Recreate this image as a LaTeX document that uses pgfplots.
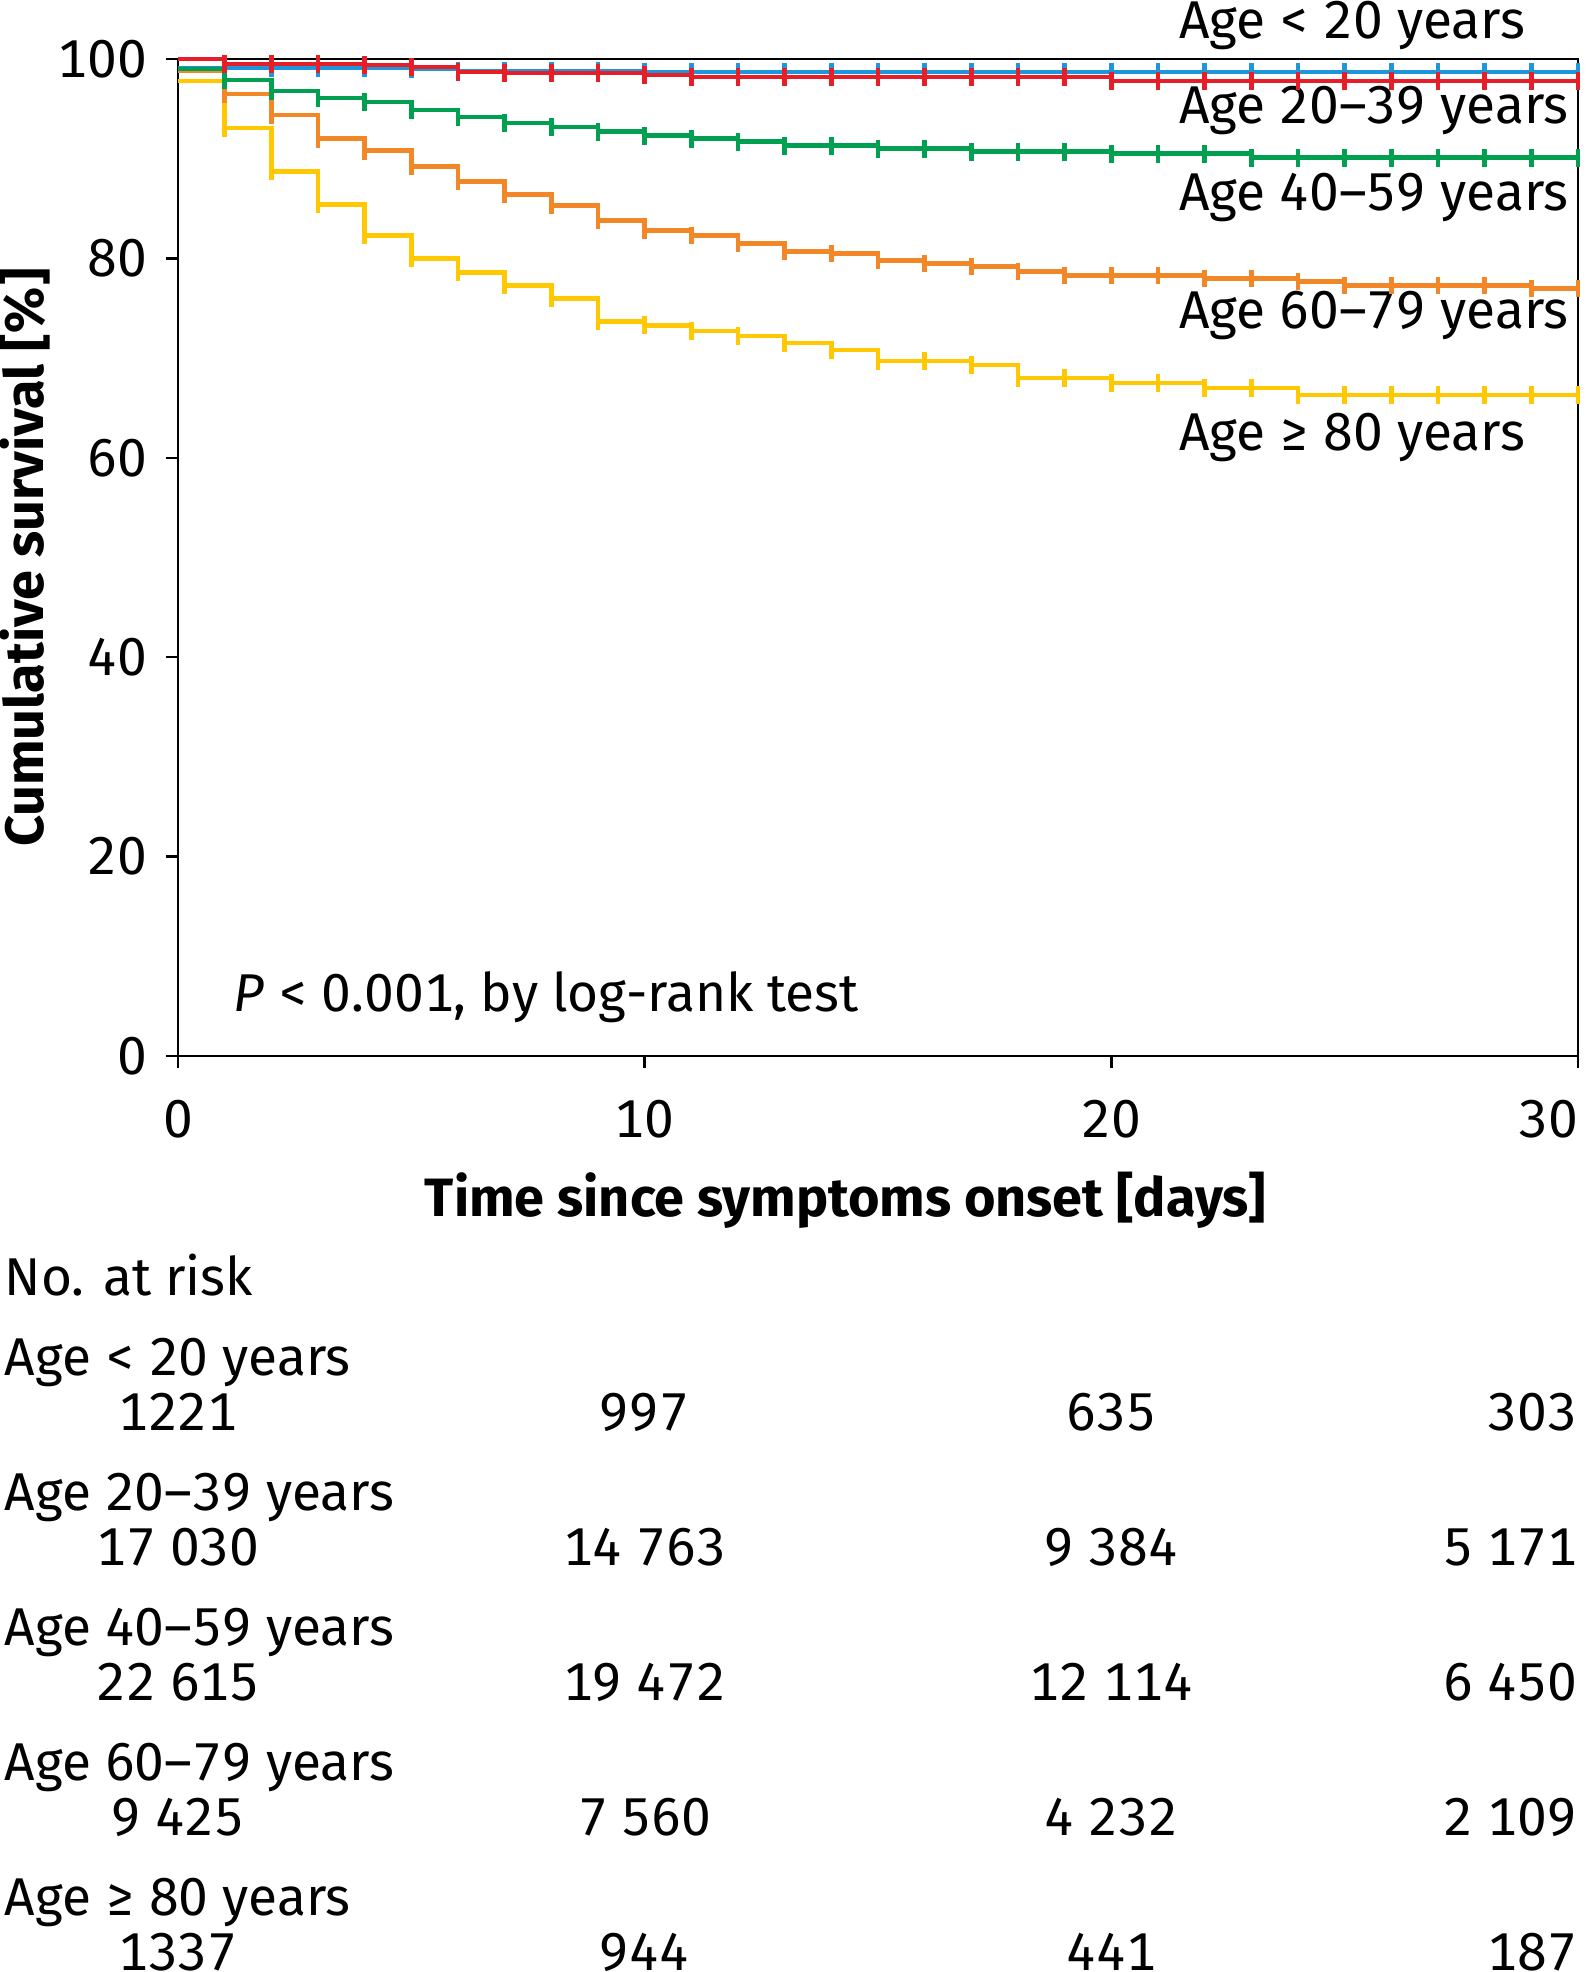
\documentclass[border=0pt]{standalone}
\usepackage{fontspec}
\setmainfont{Fira Sans}[Numbers=Monospaced]
\usepackage{pgfplots}
\pgfplotsset{compat=1.18}

\definecolor{cblue}{RGB}{30,150,220}
\definecolor{cred}{RGB}{230,30,40}
\definecolor{cgreen}{RGB}{0,160,80}
\definecolor{corange}{RGB}{242,135,40}
\definecolor{cyellow}{RGB}{255,200,0}

\newcommand{\fs}{\fontsize{13.3}{16}\selectfont}
\newcommand{\fb}{\fontsize{13.5}{16}\selectfont\bfseries}

% Kaplan-Meier estimates (day, survival %)
\pgfplotstableread{
day  u20   a20   a40   a60   a80
0    99.1  100.0 99.0  98.8  97.8
1    99.1  99.5  97.9  96.5  93.1
2    99.1  99.5  96.8  94.4  88.7
3    99.1  99.5  96.1  92.0  85.4
4    99.1  99.4  95.7  90.8  82.3
5    99.0  99.2  94.9  89.2  80.0
6    98.8  98.7  94.2  87.7  78.6
7    98.8  98.6  93.6  86.4  77.3
8    98.8  98.6  93.2  85.3  76.0
9    98.8  98.6  92.7  83.8  73.7
10   98.7  98.4  92.3  82.8  73.3
11   98.7  98.2  92.0  82.3  72.7
12   98.7  98.2  91.7  81.5  72.2
13   98.7  98.2  91.3  80.7  71.5
14   98.7  98.2  91.3  80.5  70.8
15   98.7  98.2  91.0  79.8  69.7
16   98.7  98.2  91.0  79.5  69.7
17   98.7  98.2  90.7  79.2  69.3
18   98.7  98.2  90.7  78.7  68.0
19   98.7  98.2  90.7  78.3  68.0
20   98.7  97.8  90.5  78.3  67.5
21   98.7  97.8  90.5  78.3  67.5
22   98.7  97.8  90.5  78.0  67.0
23   98.7  97.8  90.1  78.0  67.0
24   98.7  97.8  90.1  77.7  66.3
25   98.7  97.8  90.1  77.3  66.3
26   98.7  97.8  90.1  77.3  66.3
27   98.7  97.8  90.1  77.3  66.3
28   98.7  97.8  90.1  77.3  66.3
29   98.7  97.8  90.1  77.0  66.3
30   98.7  97.8  90.1  77.0  66.3
}\km

\begin{document}
\begin{tikzpicture}[font=\fs, txt/.style={inner sep=0pt}]
\begin{axis}[
name=ax,
scale only axis,
width=350pt, height=249.25pt,
xmin=0, xmax=30, ymin=0, ymax=100,
xtick={0,10,20,30},
xticklabels={0,10,20,\llap{30}},
ytick={0,20,...,100},
tick align=outside,
xtick pos=left, ytick pos=left,
major tick length=3pt,
axis line style={line width=0.6pt},
tick style={line width=0.6pt, black},
ticklabel style={font=\fs},
/pgf/number format/assume math mode=true,
xticklabel style={yshift=-4.5pt},
yticklabel style={xshift=-1.2pt},
clip=false,
every axis plot/.append style={const plot, line width=1.15pt,
  mark=|, mark repeat=1, mark phase=2, mark size=2.2pt,
  mark options={line width=1.1pt}},
]
\addplot[cblue] table[x=day, y=u20] {\km};
\addplot[corange] table[x=day, y=a60] {\km};
\addplot[cyellow] table[x=day, y=a80] {\km};
\addplot[cgreen] table[x=day, y=a40] {\km};
\addplot[cred] table[x=day, y=a20] {\km};

\node[txt, anchor=base west] at (axis cs:21.44,102.08) {Age < 20 years};
\node[txt, anchor=base west] at (axis cs:21.44,93.55) {Age 20–39 years};
\node[txt, anchor=base west] at (axis cs:21.44,84.85) {Age 40–59 years};
\node[txt, anchor=base west] at (axis cs:21.44,72.99) {Age 60–79 years};
\node[txt, anchor=base west] at (axis cs:21.44,60.78) {Age ≥ 80 years};
\node[txt, anchor=base west] at (axis cs:1.17,4.44) {\textit{P} < 0.001, by log-rank test};

% numbers at risk
\node[txt, anchor=base west, xshift=-43.5pt, yshift=-59.75pt] at (axis cs:0,0) {No. at risk};
\node[txt, anchor=base west, xshift=-43.5pt, yshift=-79.75pt] at (axis cs:0,0) {Age < 20 years};
\node[txt, anchor=base west, xshift=-43.5pt, yshift=-113.5pt] at (axis cs:0,0) {Age 20–39 years};
\node[txt, anchor=base west, xshift=-43.5pt, yshift=-147.25pt] at (axis cs:0,0) {Age 40–59 years};
\node[txt, anchor=base west, xshift=-43.5pt, yshift=-181pt] at (axis cs:0,0) {Age 60–79 years};
\node[txt, anchor=base west, xshift=-43.5pt, yshift=-214.75pt] at (axis cs:0,0) {Age ≥ 80 years};

\node[txt, anchor=base, yshift=-93.7pt] at (axis cs:0,0) {1221};
\node[txt, anchor=base, yshift=-93.7pt] at (axis cs:10,0) {997};
\node[txt, anchor=base, yshift=-93.7pt] at (axis cs:20,0) {635};
\node[txt, anchor=base east, yshift=-93.7pt] at (axis cs:30,0) {303};

\node[txt, anchor=base, yshift=-127.4pt] at (axis cs:0,0) {17 030};
\node[txt, anchor=base, yshift=-127.4pt] at (axis cs:10,0) {14 763};
\node[txt, anchor=base, yshift=-127.4pt] at (axis cs:20,0) {9 384};
\node[txt, anchor=base east, yshift=-127.4pt] at (axis cs:30,0) {5 171};

\node[txt, anchor=base, yshift=-161.2pt] at (axis cs:0,0) {22 615};
\node[txt, anchor=base, yshift=-161.2pt] at (axis cs:10,0) {19 472};
\node[txt, anchor=base, yshift=-161.2pt] at (axis cs:20,0) {12 114};
\node[txt, anchor=base east, yshift=-161.2pt] at (axis cs:30,0) {6 450};

\node[txt, anchor=base, yshift=-194.9pt] at (axis cs:0,0) {9 425};
\node[txt, anchor=base, yshift=-194.9pt] at (axis cs:10,0) {7 560};
\node[txt, anchor=base, yshift=-194.9pt] at (axis cs:20,0) {4 232};
\node[txt, anchor=base east, yshift=-194.9pt] at (axis cs:30,0) {2 109};

\node[txt, anchor=base, yshift=-228.7pt] at (axis cs:0,0) {1337};
\node[txt, anchor=base, yshift=-228.7pt] at (axis cs:10,0) {944};
\node[txt, anchor=base, yshift=-228.7pt] at (axis cs:20,0) {441};
\node[txt, anchor=base east, yshift=-228.7pt] at (axis cs:30,0) {187};
\end{axis}
\node[rotate=90, font=\fb] at ([xshift=-38.25pt]ax.west) {Cumulative survival [\%]};
\node[anchor=base, font=\fb] at ([xshift=166.9pt, yshift=-40.2pt]ax.south west) {Time since symptoms onset [days]};
\pgfresetboundingbox
\path[use as bounding box] ([xshift=-44.5pt, yshift=-229pt]ax.south west) rectangle ([xshift=2pt, yshift=14.75pt]ax.north east);
\end{tikzpicture}
\end{document}
